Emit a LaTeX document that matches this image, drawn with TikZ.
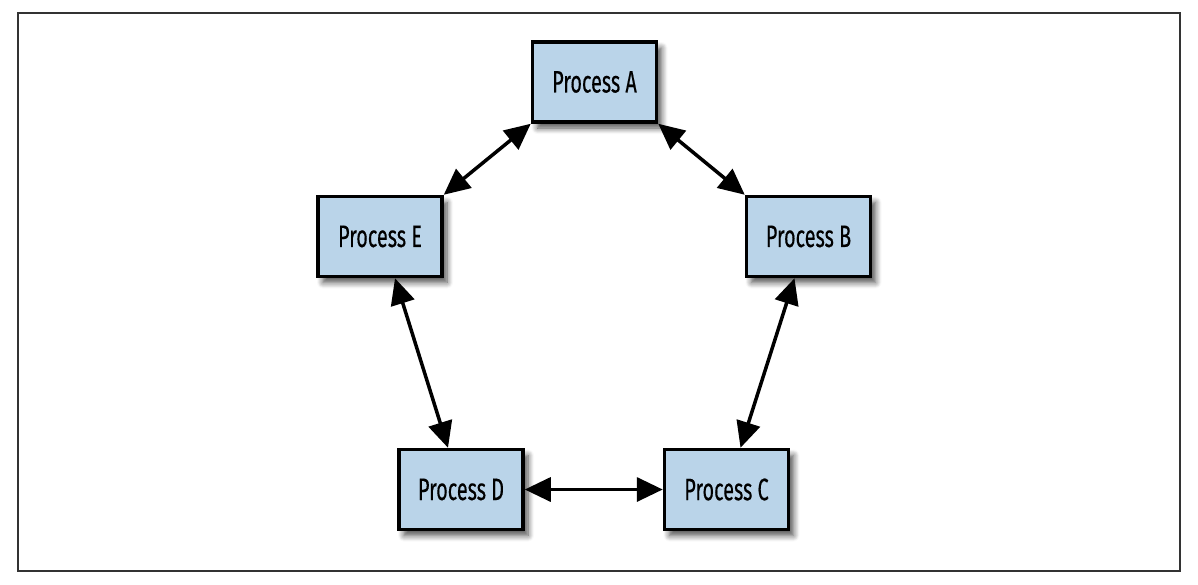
\documentclass[tikz,border=0pt]{standalone}
\usepackage{fontspec}
\setmainfont[FakeStretch=0.64,FakeBold=0.3]{Fira Sans}
\usetikzlibrary{arrows.meta,shadows.blur,calc}
\definecolor{boxblue}{RGB}{186,212,233}
\tikzset{
  proc/.style={draw=black, line width=3.5pt, fill=boxblue, minimum width=124pt, minimum height=80pt,
    inner sep=0pt, font=\fontsize{31}{34}\selectfont,
    blur shadow={shadow xshift=5pt, shadow yshift=-6pt, shadow blur steps=8, shadow blur radius=6pt, shadow opacity=70}},
  link/.style={line width=3.5pt, {Triangle[length=26pt,width=24pt]}-{Triangle[length=26pt,width=24pt]}}
}
\begin{document}
\begin{tikzpicture}[x=1pt,y=-1pt]
\useasboundingbox (0,0) rectangle (1198,584);
\draw[draw=black!80, line width=1.5pt] (18,13) rectangle (1180,571);
\node[proc] (A) at (594.5,82) {Process A};
\node[proc] (E) at (380,236.5) {Process E};
\node[proc] (B) at (808.5,236.5) {Process B};
\node[proc] (D) at (461,489.5) {Process D};
\node[proc] (C) at (726.5,489.5) {Process C};
\draw[link] (A.south west) -- (E.north east);
\draw[link] (A.south east) -- (B.north west);
\draw[link] ([xshift=15pt]E.south) -- ([xshift=-13pt]D.north);
\draw[link] ([xshift=-14pt]B.south) -- ([xshift=14pt]C.north);
\draw[link] (D.east) -- (C.west);
\end{tikzpicture}
\end{document}
